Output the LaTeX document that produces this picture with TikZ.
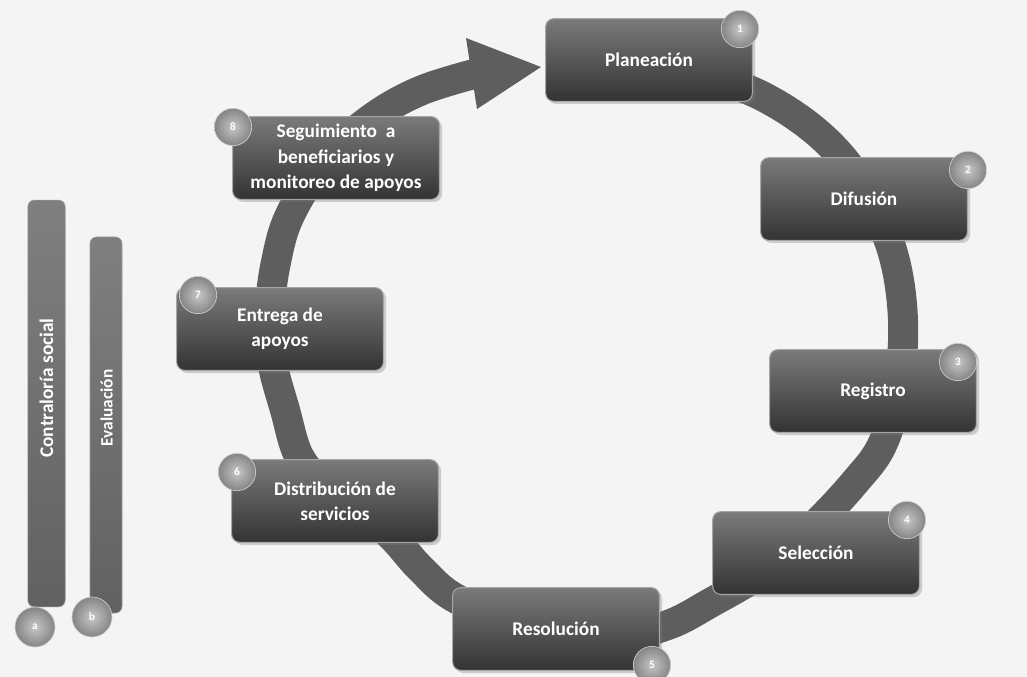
\documentclass[tikz,border=0pt]{standalone}
\usepackage{fontspec}
\setmainfont{Carlito}
\usetikzlibrary{shadows}
\definecolor{bgcol}{gray}{0.955}
\definecolor{ringcol}{gray}{0.37}
\tikzset{
  stepbox/.style={draw=black!35, line width=0.8pt, top color=black!52, bottom color=black!80,
    rounded corners=6pt, minimum width=155pt, minimum height=62pt, inner sep=2pt,
    text=white, font=\bfseries\fontsize{14.5}{19}\selectfont, align=center,
    drop shadow={opacity=0.35, shadow xshift=2pt, shadow yshift=-2pt}},
  numdot/.style={circle, minimum size=28pt, inner sep=0pt, inner color=black!22, outer color=black!48,
    draw=black!20, line width=0.5pt, text=white, font=\bfseries\fontsize{8.5}{8.5}\selectfont},
  sidebar/.style={rounded corners=5pt, top color=black!50, bottom color=black!62, draw=black!40, line width=0.5pt, inner sep=0pt},
  sidetext/.style={rotate=90, text=white, font=\bfseries\fontsize{14.5}{17}\selectfont},
}
\begin{document}
\begin{tikzpicture}[x=0.75pt,y=-0.75pt]
\fill[bgcol] (0,0) rectangle (1027,677);
\useasboundingbox (0,0) rectangle (1027,677);

% ring with arrow
\draw[ringcol, line width=22.5pt] plot[smooth, tension=0.6] coordinates {
 (690,70) (760,95) (820,135) (862,185) (892,250) (903,320) (898,390) (882,445) (855,482)
 (815,525) (765,570) (712,602) (665,626) (600,640) (520,625) (455,598) (420,568) (385,530)
 (330,490) (300,458) (285,410) (272,360) (270,310) (276,262) (290,215) (325,160) (372,118)
 (420,91) (474,74)};
\coordinate (tipA) at (466,38);
\coordinate (tipB) at (541,67);
\coordinate (tipC) at (477,109);
\fill[ringcol] (tipA) -- (tipB) -- (tipC) -- cycle;

% side bars
\node[sidebar, minimum width=28pt, minimum height=305pt] (barA) at (46.5,403.5) {};
\node[sidebar, minimum width=24pt, minimum height=282pt] (barB) at (106,425) {};
\node[sidetext] (txtA) at (46.5,388) {Contraloría social};
\node[sidetext, font=\bfseries\fontsize{13}{15}\selectfont] (txtB) at (106.5,408) {Evaluación};
\node[numdot, minimum size=30pt] (na) at (35,627) {a};
\node[numdot, minimum size=30pt] (nb) at (92,617) {b};

% step boxes
\node[stepbox] (b1) at (649,60) {Planeación};
\node[stepbox] (b2) at (864,199) {Difusión};
\node[stepbox] (b3) at (873,391) {Registro};
\node[stepbox] (b4) at (816,553) {Selección};
\node[stepbox] (b5) at (556,629) {Resolución};
\node[stepbox] (b6) at (335,501) {Distribución de\\servicios};
\node[stepbox] (b7) at (280,329) {Entrega de\\apoyos};
\node[stepbox] (b8) at (336,158) {Seguimiento~ a\\beneficiarios y\\monitoreo de apoyos};

% numbers
\node[numdot] (n1) at (740,29) {1};
\node[numdot] (n2) at (968,170) {2};
\node[numdot] (n3) at (958,362) {3};
\node[numdot] (n4) at (907,520) {4};
\node[numdot] (n5) at (652,665) {5};
\node[numdot] (n6) at (237,472) {6};
\node[numdot] (n7) at (198,295) {7};
\node[numdot] (n8) at (233,127) {8};
\end{tikzpicture}
\end{document}
